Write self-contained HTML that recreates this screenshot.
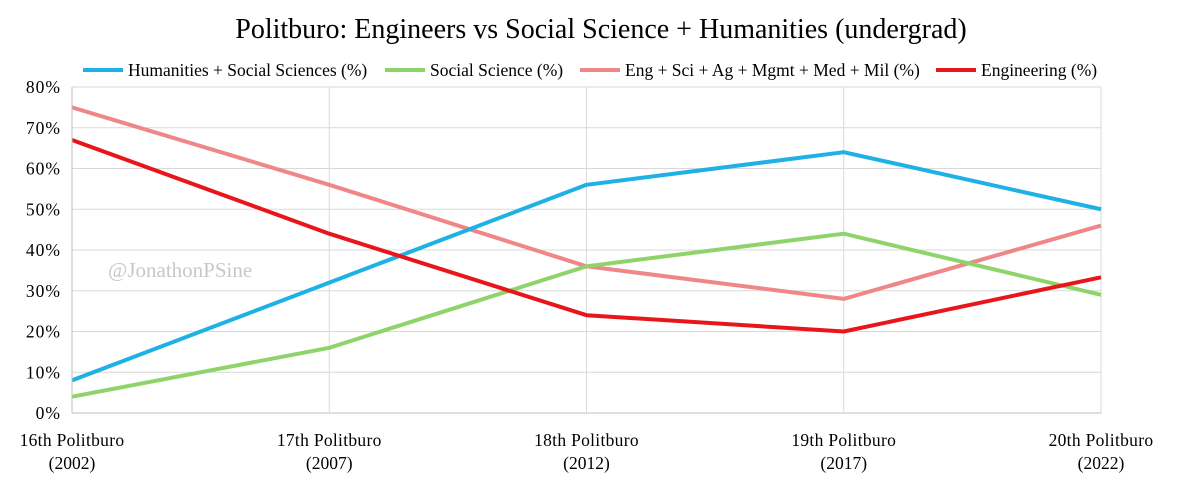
<!DOCTYPE html>
<html><head><meta charset="utf-8"><style>
body{margin:0;background:#fff;}
svg{display:block;font-family:"Liberation Serif",serif;}
</style></head><body>
<svg id="chart" width="1181" height="485">
<text x="601" y="38" text-anchor="middle" font-size="28" fill="#000">Politburo: Engineers vs Social Science + Humanities (undergrad)</text>
<g id="legend"></g>
<g id="grid"></g>
<text x="108" y="277" font-size="21" fill="#c8c8c8">@JonathonPSine</text>
<g id="series"></g>
<g id="axes"></g>
</svg>
<script>
const categories=["16th Politburo","17th Politburo","18th Politburo","19th Politburo","20th Politburo"];
const years=["(2002)","(2007)","(2012)","(2017)","(2022)"];
const yTicks=[0,10,20,30,40,50,60,70,80];
const humanities=[8,32,56,64,50];
const socialScience=[4,16,36,44,29];
const engSci=[75,56,36,28,46];
const engineering=[67,44,24,20,33.3];
const seriesNames=["Humanities + Social Sciences (%)","Social Science (%)","Eng + Sci + Ag + Mgmt + Med + Mil (%)","Engineering (%)"];
const NS="http://www.w3.org/2000/svg";
const x0=72,x1=1101,y0=413,y1=87;
function xs(i){return x0+(x1-x0)*i/(categories.length-1);}
function ys(v){return y0-(y0-y1)*v/80;}
function mk(tag,attrs,parent,txt){const e=document.createElementNS(NS,tag);for(const k in attrs)e.setAttribute(k,attrs[k]);if(txt!=null)e.textContent=txt;parent.appendChild(e);return e;}
const grid=document.getElementById('grid'),axes=document.getElementById('axes'),ser=document.getElementById('series'),leg=document.getElementById('legend');
yTicks.forEach(t=>{
 const l=mk('line',{x1:x0,x2:x1,y1:ys(t),y2:ys(t),stroke:t===0?'#bfbfbf':'#d9d9d9','stroke-width':1},grid);
 
 
 const tx=mk('text',{x:61,y:ys(t)+6,'text-anchor':'end','font-size':17.5,fill:'#000','letter-spacing':1},axes,t+'%');
 
 
});
categories.forEach((c,i)=>{
 const l=mk('line',{x1:xs(i),x2:xs(i),y1:y1,y2:y0,stroke:'#d9d9d9','stroke-width':1},grid);
 
 
 const t1=mk('text',{x:xs(i),y:446,'text-anchor':'middle','font-size':17.5,fill:'#000','letter-spacing':0.3},axes,c);
 
 
 const t2=mk('text',{x:xs(i),y:469,'text-anchor':'middle','font-size':17.5,fill:'#000'},axes,years[i]);
 
 
});
const al=mk('line',{x1:x0,x2:x0,y1:y1,y2:y0,stroke:'#bfbfbf'},axes);


const data=[humanities,socialScience,engSci,engineering];
const colors=["#1fb0e6","#8ed46a","#f08688","#e8161a"];
const order=[2,1,0,3];
order.forEach(k=>{
 const p=mk('polyline',{points:data[k].map((v,i)=>xs(i)+','+ys(v)).join(' '),fill:'none',stroke:colors[k],'stroke-width':4,'stroke-linejoin':'round'},ser);
 
 
});
const lx=[83,385,580,936];
seriesNames.forEach((n,k)=>{
 const g=mk('g',{},leg);
 
 
 mk('line',{x1:lx[k],x2:lx[k]+40,y1:70,y2:70,stroke:colors[k],'stroke-width':4},g);
 mk('text',{x:lx[k]+45,y:76,'font-size':17.5,fill:'#000'},g,n);
});
</script>
</body></html>
